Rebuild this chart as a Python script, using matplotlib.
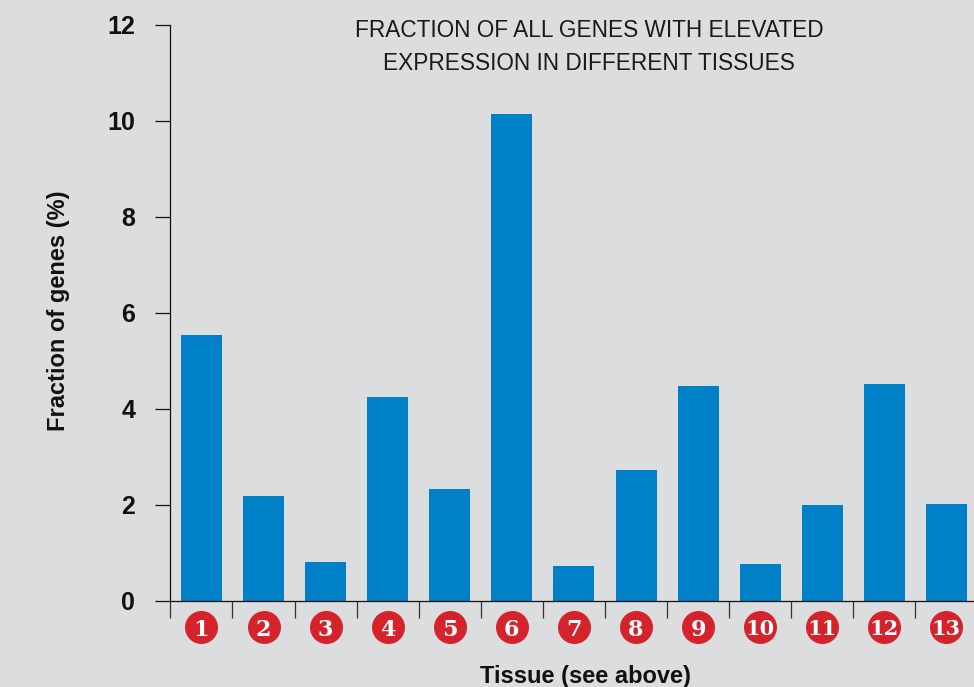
import matplotlib
matplotlib.use("Agg")
import matplotlib.pyplot as plt
from matplotlib.transforms import blended_transform_factory

tissues = list(range(1, 14))
fractions = [5.55, 2.19, 0.82, 4.26, 2.34, 10.14, 0.72, 2.72, 4.47, 0.78, 2.01, 4.53, 2.03]
yticks = [0, 2, 4, 6, 8, 10, 12]
title = "FRACTION OF ALL GENES WITH ELEVATED\nEXPRESSION IN DIFFERENT TISSUES"
xlabel = "Tissue (see above)"
ylabel = "Fraction of genes (%)"

BG = "#dcdddf"
W, H = 974, 687
px = 72 / 100
fig = plt.figure(figsize=(W / 100, H / 100), dpi=100, facecolor=BG)
ax = fig.add_axes([170 / W, 1 - 601 / H, 1 - 170 / W, (601 - 25) / H], facecolor=BG)

ax.bar(tissues, fractions, width=41 / 62.08, color="#0080c6", linewidth=0, zorder=2)
x0 = 0.5 - 0.4 / 62.08
ax.set_xlim(x0, x0 + (W - 170) / 62.08)
ax.set_ylim(0, 12)

for s in ("top", "right"):
    ax.spines[s].set_visible(False)
for s in ("left", "bottom"):
    ax.spines[s].set_linewidth(0.9)
    ax.spines[s].set_color("#111111")

ax.set_yticks(yticks)
ax.set_yticklabels([str(v) for v in yticks], fontsize=18, family="Liberation Sans",
                   fontweight="bold", color="#111111")
ax.tick_params(axis="y", length=15 * px, width=0.9, color="#111111", pad=20 * px)
ax.set_xticks([t - 0.5 for t in tissues])
ax.set_xticklabels([])
ax.tick_params(axis="x", length=17 * px, width=0.9, color="#333333")

tr = blended_transform_factory(ax.transData, ax.transAxes)
yc = -(627 - 601) / (601 - 25)
for t in tissues:
    ax.plot([t], [yc], "o", ms=33 * px, mfc="#d4232b", mec="none", transform=tr, clip_on=False, zorder=3)
    ax.text(t, yc, str(t), transform=tr, ha="center", va="center_baseline", color="white",
            fontsize=16 if t < 10 else 15, family="DejaVu Serif", fontweight="bold", zorder=4)

fig.text(589 / W, 1 - 47 / H, title, ha="center", va="center", fontsize=16.3,
         family="Liberation Sans", color="#1a1a1a", linespacing=1.52)
fig.text(585.5 / W, 1 - 677 / H, xlabel, ha="center", va="center", fontsize=17,
         family="Liberation Sans", fontweight="bold", color="#111111")
fig.text(58.5 / W, 1 - 311 / H, ylabel, ha="center", va="center", rotation=90, fontsize=17,
         family="Liberation Sans", fontweight="bold", color="#111111")

fig.savefig("out.png", dpi=100, facecolor=BG)
